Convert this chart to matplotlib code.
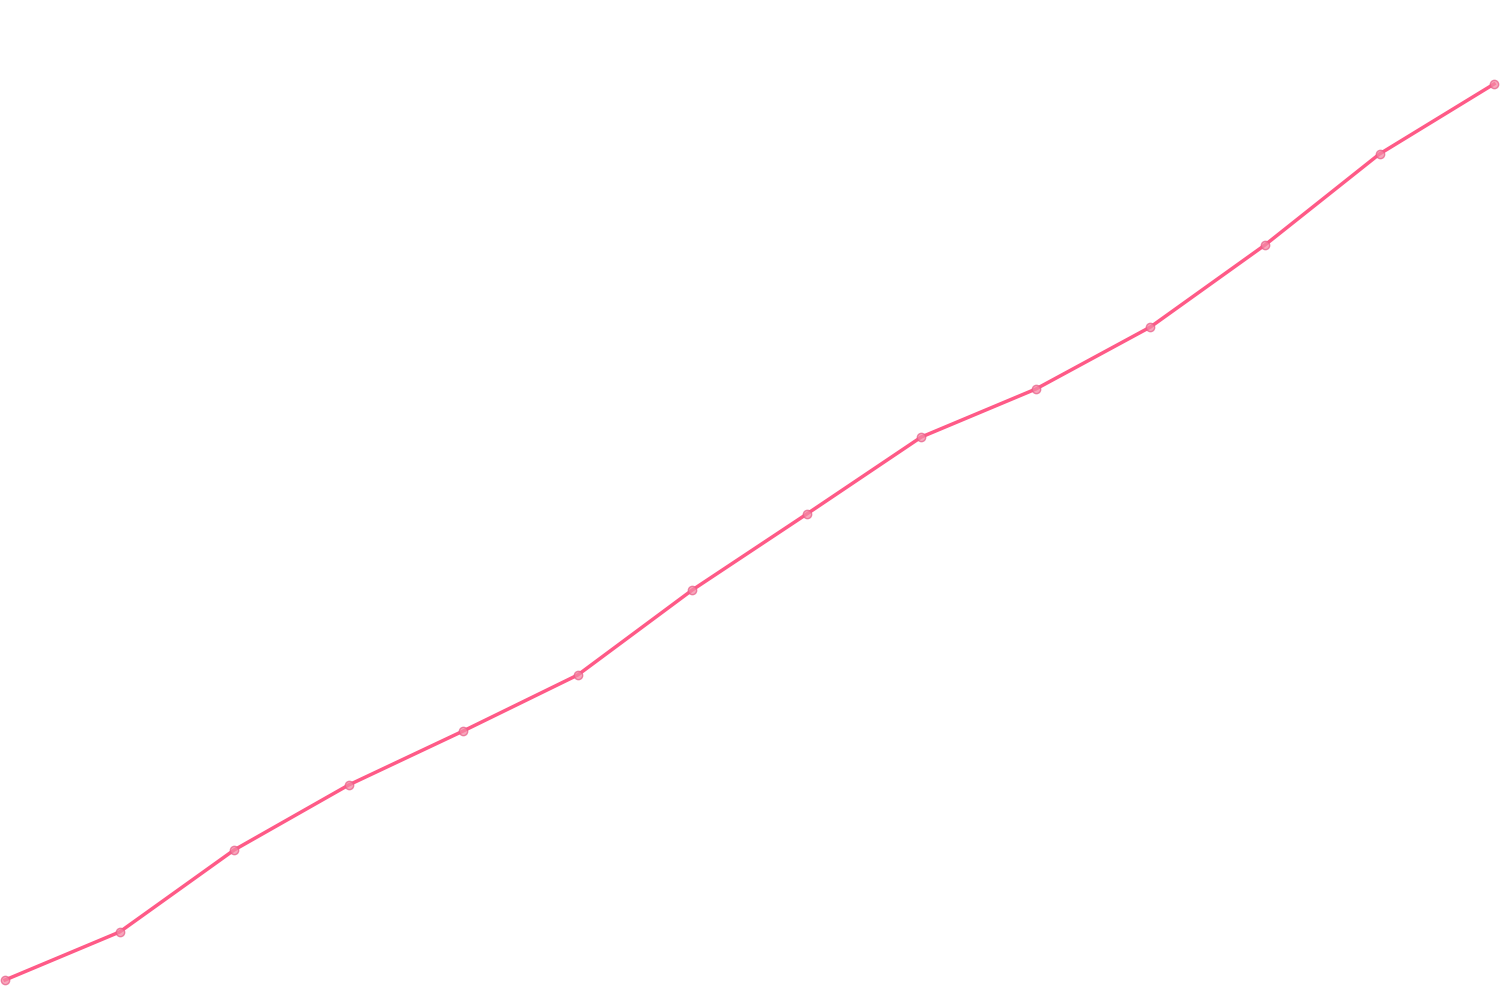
import matplotlib
matplotlib.use("Agg")
import matplotlib.pyplot as plt

x_index = list(range(14))
values = [20, 68, 150, 215, 269, 325, 410, 486, 563, 611, 673, 755, 846, 916]

fig = plt.figure(figsize=(15, 10), dpi=100)
ax = fig.add_axes([0, 0, 1, 1])
ax.plot(x_index, values, color="#ff5a87", linewidth=2.5, zorder=2)
ax.plot(x_index, values, linestyle="none", marker="o", markersize=6,
        markerfacecolor="#f58aa6", markeredgecolor="#e8608a", alpha=0.75,
        markeredgewidth=1, zorder=3)
ax.set_xlim(-0.044, 13.052)
ax.set_ylim(0, 1000)
ax.axis("off")
fig.savefig("out.png", dpi=100, facecolor="white")
